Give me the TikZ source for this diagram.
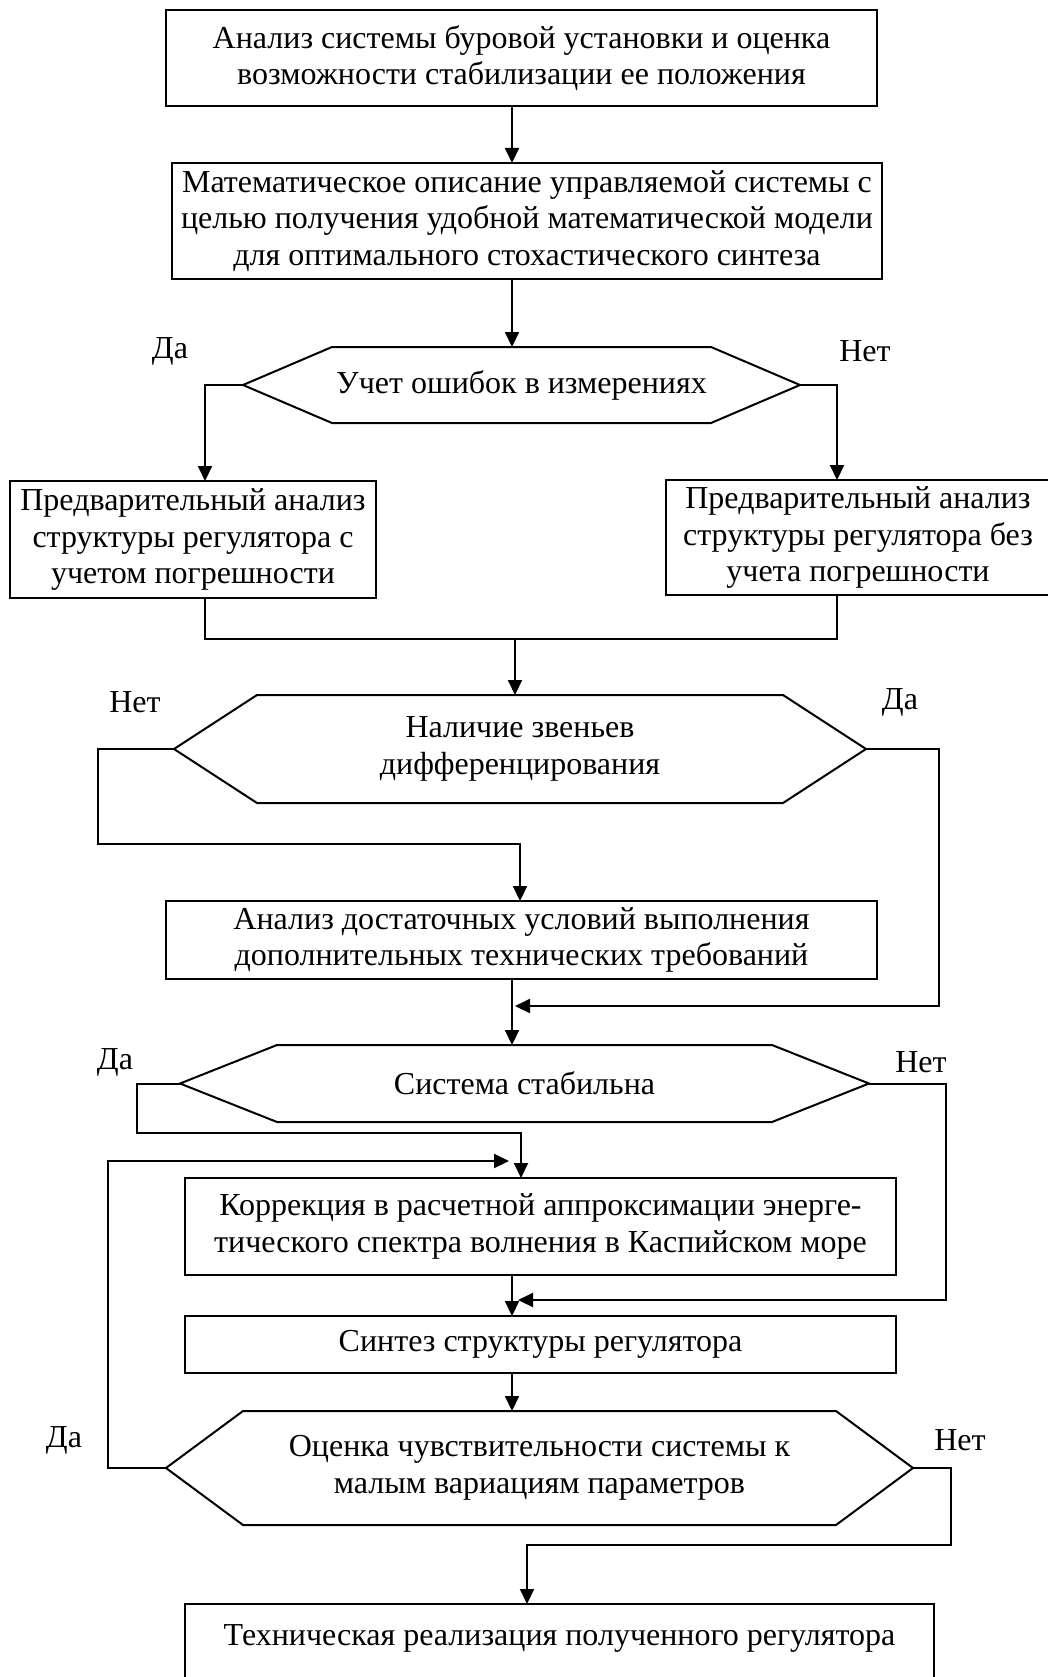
\documentclass[tikz,border=0pt]{standalone}
\usepackage{fontspec}
\setmainfont{Liberation Serif}
\usetikzlibrary{calc}
\usetikzlibrary{arrows.meta}
\tikzset{>={Triangle[length=15pt,width=14pt]}}
\tikzset{txt/.style={font=\fontsize{32}{36.6}\selectfont}}
\tikzset{blok/.style={txt, draw, rectangle, inner sep=0pt, outer sep=0pt, align=center}}
\tikzset{resh/.style={txt, rectangle, inner sep=0pt, outer sep=0pt, align=center}}
\tikzset{otv/.style={txt, inner sep=0pt}}

\begin{document}
\begin{tikzpicture}[x=1pt, y=-1pt, line width=2pt]
\useasboundingbox (0,0) rectangle (1048,1677);
\clip (0,0) rectangle (1048,1677);

\node[blok, minimum width=711pt, minimum height=96pt] (b1) at (521.5,58)
  {Анализ системы буровой установки и оценка\\возможности стабилизации ее положения};
\node[blok, minimum width=710pt, minimum height=116pt] (b2) at (527,221)
  {Математическое описание управляемой системы с\\целью получения удобной математической модели\\для оптимального стохастического синтеза};
\node[resh, minimum width=557pt, minimum height=76pt] (d1) at (521.5,385)
  {Учет ошибок в измерениях};
\node[blok, minimum width=366pt, minimum height=117pt] (b3) at (193,539.5)
  {Предварительный анализ\\структуры регулятора с\\учетом погрешности};
\node[blok, minimum width=384pt, minimum height=115pt] (b4) at (858,537.5)
  {Предварительный анализ\\структуры регулятора без\\учета погрешности};
\node[resh, minimum width=692pt, minimum height=108pt] (d2) at (520,749)
  {Наличие звеньев\\дифференцирования};
\node[blok, minimum width=711pt, minimum height=78pt] (b5) at (521.5,940)
  {Анализ достаточных условий выполнения\\дополнительных технических требований};
\node[resh, minimum width=689pt, minimum height=77pt] (d3) at (524.5,1083.5)
  {Система стабильна};
\node[blok, minimum width=711pt, minimum height=97pt] (b6) at (540.5,1226.5)
  {Коррекция в расчетной аппроксимации энерге-\\тического спектра волнения в Каспийском море};
\node[blok, minimum width=711pt, minimum height=57pt] (b7) at (540.5,1344.5)
  {Синтез структуры регулятора};
\node[resh, minimum width=747pt, minimum height=114pt] (d4) at (539.5,1468)
  {Оценка чувствительности системы к\\малым вариациям параметров};
\node[blok, anchor=north, minimum width=749pt, text height=41pt, text depth=80pt] (b8) at (559.5,1604)
  {Техническая реализация полученного регулятора};

\foreach \n/\c in {d1/89, d2/83, d3/97, d4/77}
  \draw (\n.west) -- ($(\n.north west)+(\c,0)$) -- ($(\n.north east)+(-\c,0)$)
    -- (\n.east) -- ($(\n.south east)+(-\c,0)$) -- ($(\n.south west)+(\c,0)$) -- cycle;

\node[otv] (da1) at (170,351) {Да};
\node[otv] (net1) at (865,351) {Нет};
\node[otv] (net2) at (135,702) {Нет};
\node[otv] (da2) at (900,702) {Да};
\node[otv] (da3) at (115,1062) {Да};
\node[otv] (net3) at (921,1062) {Нет};
\node[otv] (da4) at (64,1440) {Да};
\node[otv] (net4) at (960,1440) {Нет};

\coordinate (ax) at (512,0);
\coordinate (l1) at (205,0);
\coordinate (r1) at (837,0);
\coordinate (j1) at (515,639);
\coordinate (l2) at (98,0);
\coordinate (j2) at (520,844);
\coordinate (k1) at (939,1006);
\coordinate (m1) at (515,1006);
\coordinate (k2) at (137,1133);
\coordinate (j3) at (521,0);
\coordinate (k3) at (946,1300);
\coordinate (m3) at (518,1300);
\coordinate (k4) at (108,1161);
\coordinate (m4) at (509,1161);
\coordinate (k5) at (951,1545);
\coordinate (j5) at (527,0);

\draw[->] (b1.south -| ax) -- (b2.north -| ax);
\draw[->] (b2.south -| ax) -- (d1.north -| ax);
\draw[->] (d1.west) -| (b3.north -| l1);
\draw[->] (d1.east) -| (b4.north -| r1);
\draw (b3.south -| l1) |- (j1) -| (b4.south -| r1);
\draw[->] (j1) -- (d2.north -| j1);
\draw[->] (d2.west) -- (d2.west -| l2) |- (j2) -- (b5.north -| j2);
\draw[->] (d2.east) -| (k1) -- (m1);
\draw[->] (b5.south -| ax) -- (d3.north -| ax);
\draw[->] (d3.west) -| (k2) -| (b6.north -| j3);
\draw[->] (d3.east) -| (k3) -- (m3);
\draw[->] (b6.south -| ax) -- (b7.north -| ax);
\draw[->] (b7.south -| ax) -- (d4.north -| ax);
\draw[->] (d4.west) -| (k4) -- (m4);
\draw[->] (d4.east) -| (k5) -| (b8.north -| j5);
\end{tikzpicture}
\end{document}
